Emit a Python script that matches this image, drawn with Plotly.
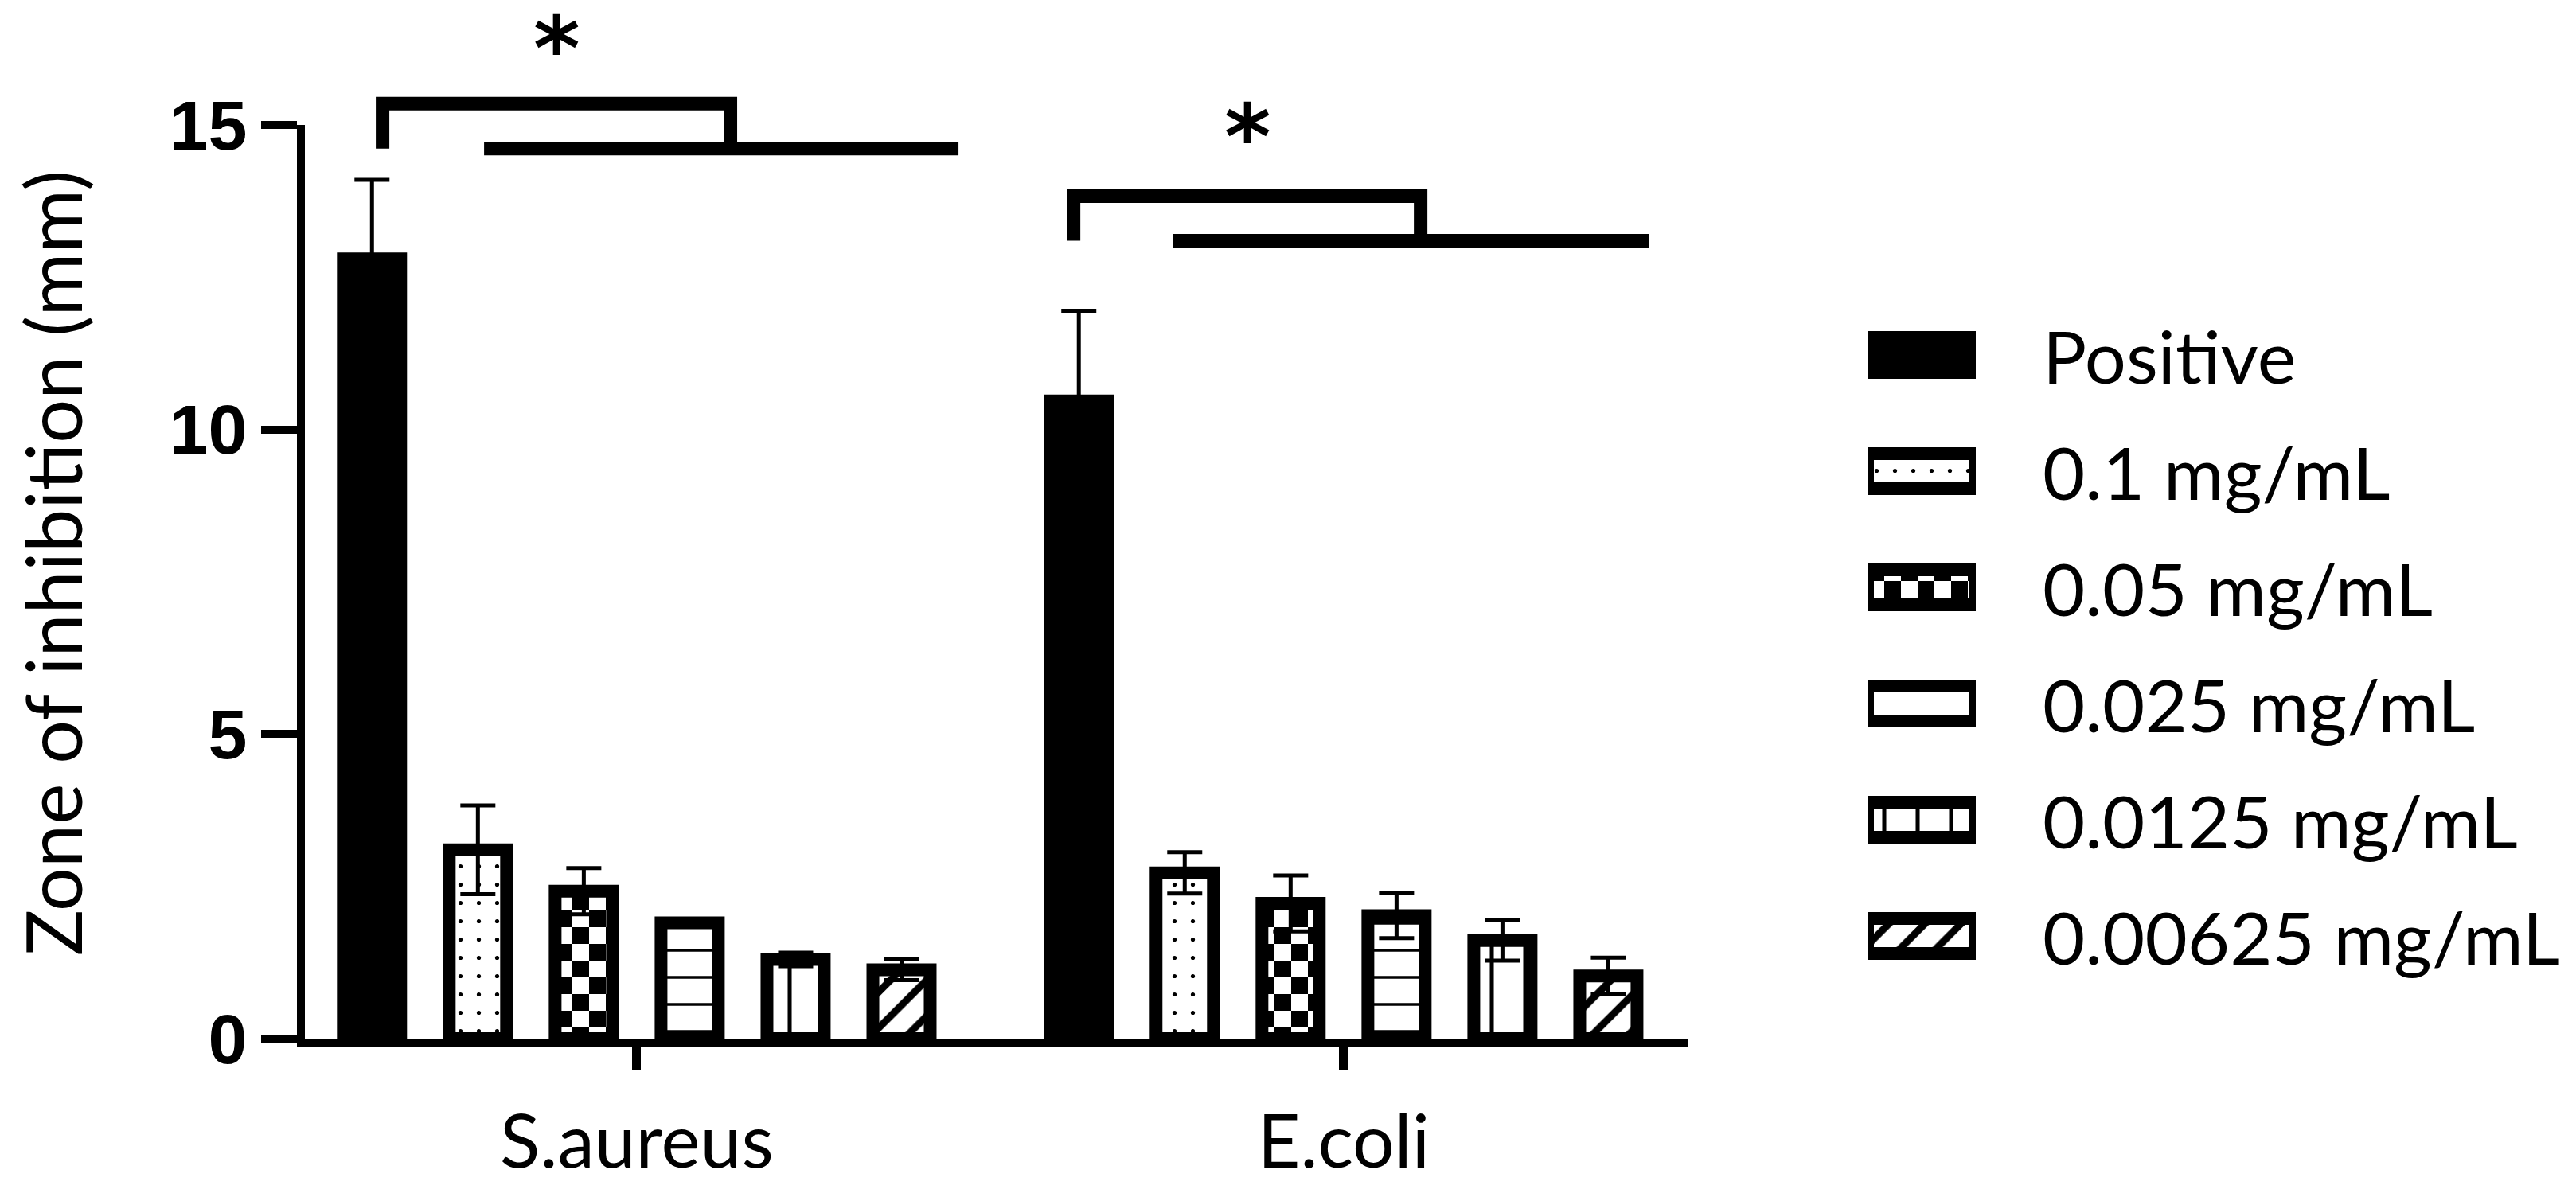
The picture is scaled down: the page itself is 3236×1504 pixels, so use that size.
import plotly.graph_objects as go

# ---------------- data ----------------
organisms = ["S.aureus", "E.coli"]
treatments = ["Positive", "0.1 mg/mL", "0.05 mg/mL", "0.025 mg/mL",
              "0.0125 mg/mL", "0.00625 mg/mL"]

# mean zone of inhibition (mm): [S.aureus, E.coli]
positive = [12.80, 10.47]
conc_0_1 = [3.10, 2.72]
conc_0_05 = [2.42, 2.22]
conc_0_025 = [1.90, 2.02]
conc_0_0125 = [1.30, 1.61]
conc_0_00625 = [1.13, 1.03]

# error bars (mm)
positive_err = [1.30, 1.48]
conc_0_1_err = [0.73, 0.34]
conc_0_05_err = [0.38, 0.46]
conc_0_025_err = [0.05, 0.37]
conc_0_0125_err = [0.11, 0.33]
conc_0_00625_err = [0.17, 0.30]

y_ticks = [0, 5, 10, 15]
y_title = "Zone of inhibition (mm)"
sig_labels = ["*", "*"]

series = [positive, conc_0_1, conc_0_05, conc_0_025, conc_0_0125, conc_0_00625]
errors = [positive_err, conc_0_1_err, conc_0_05_err, conc_0_025_err,
          conc_0_0125_err, conc_0_00625_err]

# ---------------- geometry / style ----------------
W, H = 3236, 1504
L, R, T, B = 375, 10, 149, 207
PW, PH = W - L - R, H - T - B
YMAX = 15


def px_x(px):
    return (px - L) / PW


def px_y(py):
    return (H - B - py) / PH


TEXT_FONT = "Lato"
TICK_FONT = "Liberation Sans"

# significance bracket layout (x in category units, y in data units)
brk_left = [-0.3596, 0.6180]
brk_right = [0.1325, 1.1090]
brk_top = [15.35, 13.83]
brk_low = [14.61, 13.10]
line_start = [-0.2160, 0.7590]
line_end = [0.4552, 1.4325]
star_x = [-0.1136, 0.8640]
star_y = [16.26, 14.80]

# pattern specs
try:
    from plotly.graph_objs.bar.marker import Pattern
    Pattern(path="M0,0H1V1H0Z")
    HAS_PATH = True
except Exception:
    HAS_PATH = False

CH = 21
checker_path = f"M0,0H{CH}V{CH}H0Z M{CH},{CH}H{2*CH}V{2*CH}H{CH}Z"

patterns = [
    None,
    dict(shape=".", size=23, solidity=0.04),
    (dict(path=checker_path, size=2 * CH, solidity=0.5) if HAS_PATH
     else dict(shape="+", size=42, solidity=0.5)),
    dict(shape="-", size=34, solidity=0.1),
    dict(shape="|", size=42, solidity=0.12),
    dict(shape="/", size=32, solidity=0.28),
]


def marker_for(i):
    if patterns[i] is None:
        return dict(color="black", line=dict(color="black", width=16))
    p = dict(patterns[i])
    p.update(fgcolor="black", bgcolor="white", fillmode="replace")
    return dict(color="white", line=dict(color="black", width=16), pattern=p)


fig = go.Figure()

for i, name in enumerate(treatments):
    fig.add_trace(go.Bar(
        x=organisms, y=series[i], name=name,
        marker=marker_for(i),
        error_y=dict(type="data", array=errors[i], visible=True,
                     color="black", thickness=5, width=22),
        showlegend=False,
        xaxis="x", yaxis="y",
    ))

# custom legend: one swatch bar per treatment on a small side subplot
for i, name in enumerate(treatments):
    fig.add_trace(go.Bar(
        y=[name], x=[1], base=0, orientation="h",
        width=0.301, offset=-0.1505,
        marker=marker_for(i),
        showlegend=False, cliponaxis=False, hoverinfo="skip",
        xaxis="x2", yaxis="y2",
    ))

shapes = []
annotations = []
for k in range(len(sig_labels)):
    path = (f"M{brk_left[k]},{brk_low[k] / YMAX} "
            f"L{brk_left[k]},{brk_top[k] / YMAX} "
            f"L{brk_right[k]},{brk_top[k] / YMAX} "
            f"L{brk_right[k]},{brk_low[k] / YMAX}")
    shapes.append(dict(type="path", path=path, xref="x", yref="paper",
                       line=dict(color="black", width=17)))
    shapes.append(dict(type="line", xref="x", yref="paper",
                       x0=line_start[k], x1=line_end[k],
                       y0=brk_low[k] / YMAX, y1=brk_low[k] / YMAX,
                       line=dict(color="black", width=17)))
    annotations.append(dict(text=sig_labels[k], xref="x", yref="paper",
                            x=star_x[k], y=star_y[k] / YMAX,
                            xanchor="center", yanchor="middle",
                            showarrow=False,
                            font=dict(family="DejaVu Sans", size=112,
                                      color="black", weight="bold")))

for name in treatments:
    annotations.append(dict(text=name, xref="paper", yref="y2",
                            x=px_x(2556), y=name, xanchor="left",
                            yanchor="middle", showarrow=False,
                            font=dict(family=TEXT_FONT, size=92,
                                      color="black")))

annotations.append(dict(text=y_title, xref="paper", yref="paper",
                        x=px_x(57), y=px_y(700), textangle=-90,
                        xanchor="center", yanchor="middle", showarrow=False,
                        font=dict(family=TEXT_FONT, size=97, color="black")))

fig.update_layout(
    width=W, height=H,
    margin=dict(l=L, r=R, t=T, b=B, pad=0),
    paper_bgcolor="white", plot_bgcolor="white",
    barmode="group", bargap=0.101, bargroupgap=0.459,
    showlegend=False,
    xaxis=dict(domain=[0, px_x(2112)], type="category",
               range=[-0.4695, 1.4867],
               showline=True, linewidth=10, linecolor="black",
               ticks="outside", ticklen=30, tickwidth=11,
               tickcolor="black", showgrid=False, zeroline=False,
               ticklabelstandoff=10,
               tickfont=dict(family=TEXT_FONT, size=93, color="black")),
    yaxis=dict(domain=[0, 1], range=[0, YMAX], tickvals=y_ticks,
               showline=True, linewidth=10, linecolor="black",
               ticks="outside", ticklen=45, tickwidth=10,
               tickcolor="black", showgrid=False, zeroline=False,
               tickfont=dict(family=TICK_FONT, size=88, color="black",
                             weight="bold")),
    xaxis2=dict(domain=[px_x(2338), px_x(2474)], range=[0, 1],
                visible=False, anchor="y2", fixedrange=True),
    yaxis2=dict(domain=[px_y(1241), px_y(365)], type="category",
                categoryorder="array", categoryarray=treatments,
                range=[len(treatments) - 0.5, -0.5],
                visible=False, anchor="x2", fixedrange=True),
    shapes=shapes,
    annotations=annotations,
)

fig.write_html("out.html")
